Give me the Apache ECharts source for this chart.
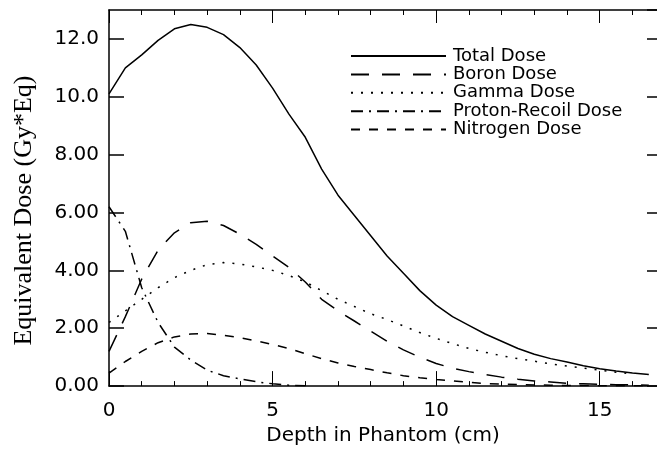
<!DOCTYPE html>
<html>
<head>
<meta charset="utf-8">
<script src="https://cdn.jsdelivr.net/npm/echarts@6/dist/echarts.min.js"></script>
<style>
  html, body { margin: 0; padding: 0; background: #fff; }
  #chart { width: 657px; height: 451px; }
</style>
</head>
<body>
<div id="chart"></div>
<script>
// depth in phantom (cm), 0.5 cm steps
const depth = [0, 0.5, 1, 1.5, 2, 2.5, 3, 3.5, 4, 4.5, 5, 5.5, 6, 6.5, 7, 7.5, 8, 8.5,
  9, 9.5, 10, 10.5, 11, 11.5, 12, 12.5, 13, 13.5, 14, 14.5, 15, 15.5, 16, 16.5]

const totalDose = [10.1, 11.0, 11.45, 11.95, 12.35, 12.5, 12.4, 12.15, 11.7, 11.1, 10.3, 9.4,
  8.6, 7.5, 6.6, 5.9, 5.2, 4.5, 3.9, 3.3, 2.8, 2.4, 2.1, 1.8, 1.55, 1.3, 1.1, 0.95, 0.83,
  0.7, 0.6, 0.52, 0.45, 0.4]
const boronDose = [1.2, 2.4, 3.7, 4.7, 5.3, 5.65, 5.7, 5.55, 5.25, 4.9, 4.5, 4.1, 3.6, 3.0,
  2.6, 2.25, 1.9, 1.55, 1.25, 1.0, 0.78, 0.62, 0.5, 0.4, 0.31, 0.24, 0.18, 0.14, 0.1, 0.08,
  0.06, 0.05, 0.04, 0.03]
const gammaDose = [2.2, 2.6, 3.0, 3.4, 3.75, 4.0, 4.2, 4.27, 4.22, 4.12, 4.0, 3.82, 3.6, 3.3,
  3.0, 2.75, 2.5, 2.3, 2.08, 1.85, 1.65, 1.47, 1.3, 1.17, 1.05, 0.95, 0.86, 0.77, 0.69, 0.62,
  0.55, 0.48, 0.42]
const protonDose = [6.2, 5.35, 3.4, 2.2, 1.35, 0.9, 0.55, 0.36, 0.25, 0.15, 0.08, 0.03, 0.01]
const nitrogenDose = [0.45, 0.85, 1.2, 1.5, 1.7, 1.8, 1.82, 1.76, 1.67, 1.56, 1.44, 1.3, 1.12,
  0.95, 0.8, 0.68, 0.57, 0.46, 0.36, 0.29, 0.23, 0.18, 0.13, 0.09, 0.07, 0.05, 0.04, 0.03,
  0.02, 0.02, 0.01, 0.01, 0.01, 0.01]

const seriesNames = ['Total Dose', 'Boron Dose', 'Gamma Dose', 'Proton-Recoil Dose', 'Nitrogen Dose']
const seriesValues = [totalDose, boronDose, gammaDose, protonDose, nitrogenDose]
const seriesDash = ['solid', [18, 13], [2, 8], [12, 6, 2, 6], [9, 9]]

const font = 'DejaVu Sans'
const clear = 'rgba(0,0,0,0)'

const chart = echarts.init(document.getElementById('chart'))

chart.setOption({
  animation: false,
  grid: { left: 109, right: -1, top: 10, bottom: 62 },
  legend: {
    orient: 'vertical',
    left: 345,
    top: 42,
    itemWidth: 95,
    itemHeight: 10,
    itemGap: 0.4,
    itemStyle: { color: clear, borderColor: clear, borderWidth: 0 },
    textStyle: { fontFamily: font, fontSize: 18, color: '#000', lineHeight: 18, padding: [0, 0, 0, 2] },
    data: seriesNames
  },
  xAxis: [{
    type: 'value',
    min: 0,
    max: 16.75,
    interval: 5,
    name: 'Depth in Phantom (cm)',
    nameLocation: 'middle',
    nameGap: 36,
    nameTextStyle: { fontFamily: font, fontSize: 20, color: '#000' },
    axisLine: { onZero: false, lineStyle: { color: '#000', width: 1.5 } },
    axisTick: { inside: true, length: 15, lineStyle: { color: '#000' } },
    minorTick: { show: true, splitNumber: 5, length: 5, lineStyle: { color: '#000' } },
    splitLine: { show: false },
    axisLabel: {
      margin: 15,
      fontFamily: font,
      fontSize: 20,
      color: '#000',
      showMaxLabel: false,
      formatter: v => (v % 5 === 0 ? String(v) : '')
    }
  }, {
    type: 'value',
    position: 'top',
    min: 0,
    max: 16.75,
    interval: 5,
    axisLine: { onZero: false, lineStyle: { color: '#000', width: 1.5 } },
    axisTick: { inside: true, length: 13, lineStyle: { color: '#000' } },
    minorTick: { show: true, splitNumber: 5, length: 5, lineStyle: { color: '#000' } },
    splitLine: { show: false },
    axisLabel: { show: false }
  }],
  yAxis: [{
    type: 'value',
    min: 0,
    max: 13,
    interval: 2,
    name: 'Equivalent Dose (Gy*Eq)',
    nameLocation: 'middle',
    nameRotate: 90,
    nameGap: 72,
    nameTextStyle: { fontFamily: 'Liberation Serif', fontSize: 26, color: '#000', padding: [0, 25, 0, 0] },
    axisLine: { onZero: false, lineStyle: { color: '#000', width: 1.5 } },
    axisTick: { inside: true, length: 15, lineStyle: { color: '#000', width: 1.5 } },
    splitLine: { show: false },
    axisLabel: {
      margin: 10,
      fontFamily: font,
      fontSize: 20,
      color: '#000',
      showMaxLabel: false,
      formatter: v => (v >= 10 ? v.toFixed(1) : v.toFixed(2))
    }
  }, {
    type: 'value',
    position: 'right',
    min: 0,
    max: 13,
    interval: 2,
    axisLine: { show: true, onZero: false, lineStyle: { color: '#000' } },
    axisTick: { inside: true, length: 10, lineStyle: { color: '#000', width: 1.5 } },
    splitLine: { show: false },
    axisLabel: { show: false }
  }],
  series: seriesNames.map((name, i) => ({
    name: name,
    type: 'line',
    symbol: 'none',
    data: seriesValues[i].map((v, j) => [depth[j], v]),
    lineStyle: { color: '#000', width: 1.5, type: seriesDash[i] },
    itemStyle: { color: '#000' }
  }))
})
</script>
</body>
</html>
